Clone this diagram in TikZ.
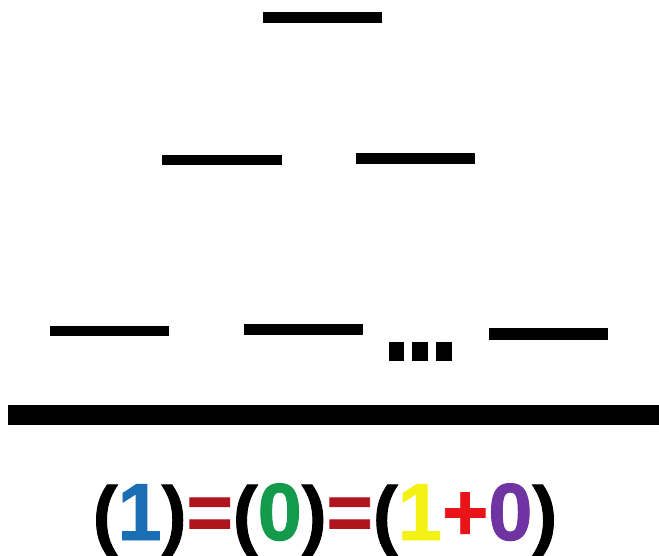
\documentclass[tikz,border=0pt]{standalone}
\usepackage{fontspec}
\setmainfont{Liberation Sans}
\newfontfamily\heavyfont[FakeBold=1.2]{Liberation Sans Bold}
\definecolor{oneblue}{HTML}{1B6DB4}
\definecolor{eqred}{HTML}{B0141C}
\definecolor{zerogreen}{HTML}{139A4A}
\definecolor{oneyellow}{HTML}{F4F214}
\definecolor{plusred}{HTML}{E8141A}
\definecolor{zeropurple}{HTML}{7033A2}
\newcommand\mylpar{{\fontsize{76}{90}\selectfont(}}
\newcommand\myrpar{{\fontsize{76}{90}\selectfont)}}
\tikzset{
  bar/.style={fill=black, draw=none},
  eqtext/.style={anchor=base, inner sep=0pt, font=\heavyfont\fontsize{81}{90}\selectfont, xscale=0.98}
}
\begin{document}
\begin{tikzpicture}[x=1pt, y=-1pt]
\useasboundingbox[fill=white] (0,0) rectangle (659,556);
% top row
\fill[bar] (263,12) rectangle (382,23);
% second row
\fill[bar] (162,155) rectangle (282,165);
\fill[bar] (356,153) rectangle (475,164);
% third row
\fill[bar] (50,326) rectangle (169,336);
\fill[bar] (244,324) rectangle (363,335);
\fill[bar] (389,342) rectangle (404,361);
\fill[bar] (412,342) rectangle (428,361);
\fill[bar] (436,342) rectangle (452,361);
\fill[bar] (489,328) rectangle (608,340);
% ground bar
\fill[bar] (8,405) rectangle (659,425);
% equation
\node[eqtext] (eq) at (325,540) {\mylpar\textcolor{oneblue}{1}\myrpar\textcolor{eqred}{=}\mylpar\textcolor{zerogreen}{0}\myrpar\textcolor{eqred}{=}\mylpar\textcolor{oneyellow}{1}\textcolor{plusred}{+}\textcolor{zeropurple}{0}\myrpar};
\end{tikzpicture}
\end{document}
